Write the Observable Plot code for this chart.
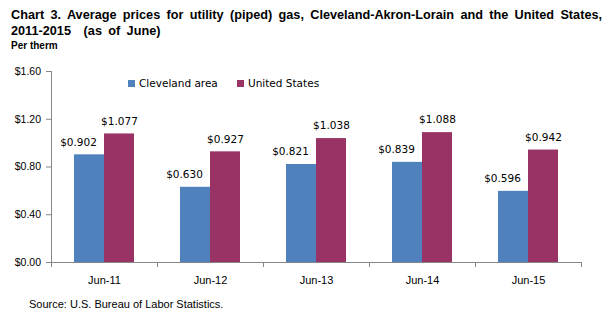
<!DOCTYPE html>
<html>
<head>
<meta charset="utf-8">
<script src="https://cdn.jsdelivr.net/npm/d3@7"></script>
<script src="https://cdn.jsdelivr.net/npm/@observablehq/plot@0.6"></script>
<style>
  html, body { margin: 0; padding: 0; background: #fff; }
  #wrap { position: relative; width: 602px; height: 323px; overflow: hidden; }
  #head { position: relative; height: 56px; }
  .title { position: absolute; left: 11px; font-family: "Liberation Sans Narrow", "Arial Narrow", "Liberation Sans", sans-serif; font-weight: bold; font-size: 12.7px; line-height: 15px; white-space: pre; color: #000; }
  #t1 { top: 8px; word-spacing: 2.8px; }
  #t2 { top: 24px; word-spacing: 2.8px; }
  #unit { position: absolute; left: 11px; top: 39.5px; font-family: "Liberation Sans Narrow", "Arial Narrow", "Liberation Sans", sans-serif; font-weight: bold; font-size: 10px; line-height: 12px; white-space: nowrap; }
  #chart { position: relative; height: 240px; }
  #legend { position: absolute; top: 21px; left: 128px; font-family: "DejaVu Sans", sans-serif; font-size: 10.5px; line-height: 13px; white-space: nowrap; }
  .item { position: absolute; top: 0; display: flex; align-items: center; }
  .sw { width: 7px; height: 7px; margin-right: 4px; display: inline-block; }
  #source { padding-top: 1px; padding-left: 29px; font-family: "Liberation Sans", Arial, sans-serif; font-size: 11px; line-height: 14px; white-space: nowrap; }
</style>
</head>
<body>
<div id="wrap">
  <div id="head">
    <div class="title" id="t1"></div>
    <div class="title" id="t2"></div>
    <div id="unit"></div>
  </div>
  <div id="chart"><div id="legend"></div></div>
  <div id="source"></div>
</div>
<script>
// ---- data ----
const titleLines = ["Chart 3. Average prices for utility (piped) gas, Cleveland-Akron-Lorain and the United States,", "2011-2015  (as of June)"];
const unitLabel = "Per therm";
const sourceNote = "Source: U.S. Bureau of Labor Statistics.";
const years = ["Jun-11", "Jun-12", "Jun-13", "Jun-14", "Jun-15"];
const seriesNames = ["Cleveland area", "United States"];
const cleveland = [0.902, 0.630, 0.821, 0.839, 0.596];
const unitedStates = [1.077, 0.927, 1.038, 1.088, 0.942];
const yTicks = [0, 0.4, 0.8, 1.2, 1.6];
const colors = ["#4F81BD", "#993366"];

// ---- text ----
document.getElementById("t1").textContent = titleLines[0];
document.getElementById("t2").textContent = titleLines[1];
document.getElementById("unit").textContent = unitLabel;
document.getElementById("source").textContent = sourceNote;

const legend = document.getElementById("legend");
const legendOffsets = [0, 109];
seriesNames.forEach((name, k) => {
  const it = document.createElement("div");
  it.className = "item";
  it.style.left = legendOffsets[k] + "px";
  const sw = document.createElement("span");
  sw.className = "sw";
  sw.style.background = colors[k];
  const tx = document.createElement("span");
  tx.textContent = name;
  it.appendChild(sw);
  it.appendChild(tx);
  legend.appendChild(it);
});

// ---- table ----
const barW = 0.283; // bar width in band units
const rows = [];
years.forEach((yr, i) => {
  rows.push({year: yr, i, series: seriesNames[0], value: cleveland[i], x1: i + 0.5 - barW, x2: i + 0.5});
  rows.push({year: yr, i, series: seriesNames[1], value: unitedStates[i], x1: i + 0.5, x2: i + 0.5 + barW});
});
const boundaries = years.map((_, i) => i).concat([years.length]);
const centers = years.map((_, i) => i + 0.5);
const axisGray = "#868686";
const labelText = d => "$" + d.value.toFixed(3);
const labelX = d => (d.x1 + d.x2) / 2;

const chart = Plot.plot({
  width: 602,
  height: 240,
  marginTop: 15,
  marginBottom: 34,
  marginLeft: 51,
  marginRight: 21,
  style: {fontFamily: "'Liberation Sans', Arial, sans-serif", background: "transparent", color: "#000"},
  x: {domain: [0, years.length], axis: null},
  y: {domain: [0, 1.6], axis: null},
  color: {domain: seriesNames, range: colors},
  marks: [
    Plot.rectY(rows, {x1: "x1", x2: "x2", y: "value", fill: "series"}),
    Plot.text(rows.filter(d => d.series === seriesNames[1]), {
      x: labelX, y: "value", text: labelText,
      dy: -12.5, fontFamily: "DejaVu Sans", fontSize: 10.5, fill: "#000"
    }),
    Plot.text(rows.filter(d => d.series === seriesNames[0]), {
      x: labelX, y: "value", text: labelText,
      dy: -12.5, dx: -11, fontFamily: "DejaVu Sans", fontSize: 10.5, fill: "#000"
    }),
    Plot.ruleX([0], {stroke: axisGray}),
    Plot.ruleY([0], {stroke: axisGray}),
    Plot.axisY({ticks: yTicks, tickSize: 5, tickPadding: 5.5, stroke: axisGray, fill: "#000", tickFormat: d => "$" + d.toFixed(2), fontSize: 10.5, label: null}),
    Plot.axisX({ticks: boundaries, tickSize: 5, stroke: axisGray, tickFormat: () => "", label: null}),
    Plot.axisX({ticks: centers, tickSize: 0, tickPadding: 14, fill: "#000", tickFormat: d => years[Math.floor(d)], fontSize: 11, label: null})
  ]
});
document.getElementById("chart").appendChild(chart);
</script>
</body>
</html>
